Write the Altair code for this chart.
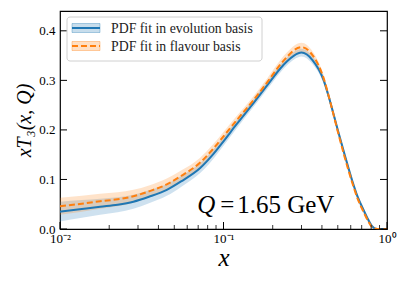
import altair as alt
import pandas as pd

# ---- data ----
X = [0.01, 0.0136, 0.0176, 0.0225, 0.0281, 0.035, 0.045, 0.055, 0.072, 0.085,
     0.1, 0.12, 0.15, 0.185, 0.224, 0.244, 0.27, 0.3, 0.35, 0.409,
     0.45, 0.5, 0.55, 0.611, 0.66, 0.72, 0.77, 0.81, 0.87, 0.93, 1.0]
EVOL = [0.035, 0.0405, 0.045, 0.049, 0.055, 0.065, 0.079, 0.096, 0.123, 0.148,
        0.177, 0.211, 0.251, 0.290, 0.325, 0.338, 0.350, 0.356, 0.341, 0.301,
        0.256, 0.200, 0.151, 0.099, 0.066, 0.038, 0.018, 0.006, 0.0, 0.0, 0.0]
EVOL_ERR = [0.020, 0.018, 0.016, 0.015, 0.014, 0.013, 0.012, 0.011, 0.010, 0.0095,
            0.009, 0.0085, 0.008, 0.008, 0.008, 0.008, 0.008, 0.008, 0.008, 0.007,
            0.007, 0.006, 0.005, 0.005, 0.004, 0.004, 0.003, 0.002, 0.001, 0.0005, 0.0]
FLAV = [0.046, 0.051, 0.056, 0.060, 0.066, 0.076, 0.090, 0.107, 0.134, 0.159,
        0.187, 0.219, 0.257, 0.296, 0.333, 0.347, 0.361, 0.367, 0.351, 0.305,
        0.256, 0.197, 0.146, 0.095, 0.062, 0.034, 0.015, 0.004, 0.0, 0.0, 0.0]
FLAV_ERR = [0.017, 0.016, 0.015, 0.014, 0.013, 0.012, 0.012, 0.011, 0.010, 0.0095,
            0.009, 0.0085, 0.008, 0.008, 0.009, 0.009, 0.009, 0.009, 0.008, 0.007,
            0.007, 0.006, 0.005, 0.005, 0.004, 0.004, 0.003, 0.002, 0.001, 0.0005, 0.0]

Y_TICKS = [0.0, 0.1, 0.2, 0.3, 0.4]
X_MAJOR = [0.01, 0.1, 1.0]
X_MINOR = [0.02, 0.03, 0.04, 0.05, 0.06, 0.07, 0.08, 0.09,
           0.2, 0.3, 0.4, 0.5, 0.6, 0.7, 0.8, 0.9]
LEGEND_LABELS = ["PDF fit in evolution basis", "PDF fit in flavour basis"]
ANNOT_X = [0.069]
ANNOT_Y = [0.032]

# ---- style ----
W, H = 327, 218
BLUE = "#1f77b4"
ORANGE = "#ff7f0e"
SERIF = "Liberation Serif"

def band_df(vals, errs):
    return pd.DataFrame({
        "x": X, "v": vals,
        "lo": [v - e for v, e in zip(vals, errs)],
        "hi": [v + e for v, e in zip(vals, errs)],
    })

d_evol = band_df(EVOL, EVOL_ERR)
d_flav = band_df(FLAV, FLAV_ERR)

xs = alt.Scale(type="log", domain=[0.01, 1.0], nice=False)
ys = alt.Scale(domain=[0.0, 0.44], nice=False, zero=False)

x_axis = alt.Axis(values=X_MAJOR, ticks=False, grid=False, domain=False,
                  labelExpr="datum.value < 0.05 ? '10⁻²' : (datum.value < 0.5 ? '10⁻¹' : '10⁰')",
                  labelFont=SERIF, labelFontSize=13, labelPadding=3, labelFlush=False,
                  labelColor="black", labelOverlap=False,
                  title="x", titleFont=SERIF, titleFontStyle="italic", titleFontWeight="normal",
                  titleFontSize=25, titlePadding=0, titleColor="black")
y_axis = alt.Axis(values=Y_TICKS, format=".1f", ticks=False, grid=False, domain=False,
                  labelFont=SERIF, labelFontSize=13, labelPadding=5, labelColor="black",
                  title="xT₃(x, Q)", titleFont=SERIF, titleFontStyle="italic",
                  titleFontWeight="normal", titleFontSize=20, titlePadding=4, titleColor="black")

def X_(f):
    return alt.X(f, scale=xs, axis=x_axis)

def Y_(f):
    return alt.Y(f, scale=ys, axis=y_axis)

band_e = alt.Chart(d_evol).mark_area(color=BLUE, opacity=0.22, interpolate="monotone").encode(
    x=X_("x:Q"), y=Y_("lo:Q"), y2="hi:Q")
band_f = alt.Chart(d_flav).mark_area(color=ORANGE, opacity=0.22, interpolate="monotone").encode(
    x=X_("x:Q"), y=Y_("lo:Q"), y2="hi:Q")
line_e = alt.Chart(d_evol).mark_line(color=BLUE, strokeWidth=2, interpolate="monotone", clip=True).encode(
    x=X_("x:Q"), y=Y_("v:Q"))
line_f = alt.Chart(d_flav).mark_line(color=ORANGE, strokeWidth=2, strokeDash=[6, 3],
                                     interpolate="monotone", clip=True).encode(
    x=X_("x:Q"), y=Y_("v:Q"))

# inward ticks
yt = pd.DataFrame({"v": Y_TICKS})
xt_major = pd.DataFrame({"v": X_MAJOR})
xt_minor = pd.DataFrame({"v": X_MINOR})
tick_l = alt.Chart(yt).mark_rule(color="black", strokeWidth=1).encode(
    y=Y_("v:Q"), x=alt.value(0), x2=alt.value(7))
tick_r = alt.Chart(yt).mark_rule(color="black", strokeWidth=1).encode(
    y=Y_("v:Q"), x=alt.value(W), x2=alt.value(W - 7))
tick_xM = alt.Chart(xt_major).mark_rule(color="black", strokeWidth=1).encode(
    x=X_("v:Q"), y=alt.value(H), y2=alt.value(H - 7))
tick_xm = alt.Chart(xt_minor).mark_rule(color="black", strokeWidth=0.8).encode(
    x=X_("v:Q"), y=alt.value(H), y2=alt.value(H - 4))

# annotation
ad = pd.DataFrame({"x": ANNOT_X, "y": ANNOT_Y})
ann_q = alt.Chart(ad).mark_text(font=SERIF, fontSize=25, fontStyle="italic", align="left",
                                baseline="alphabetic", color="black").encode(
    x=X_("x:Q"), y=Y_("y:Q"), text=alt.value("Q"))
ann_eq = alt.Chart(ad).mark_text(font=SERIF, fontSize=25, align="left", dx=23,
                                 baseline="alphabetic", color="black").encode(
    x=X_("x:Q"), y=Y_("y:Q"), text=alt.value("="))
ann_val = alt.Chart(ad).mark_text(font=SERIF, fontSize=25, align="left", dx=40,
                                  baseline="alphabetic", color="black").encode(
    x=X_("x:Q"), y=Y_("y:Q"), text=alt.value("1.65 GeV"))

# legend
one = pd.DataFrame({"a": [0]})
leg_box = alt.Chart(one).mark_rect(fill="white", fillOpacity=0.85, stroke="#d0d0d0",
                                   strokeWidth=1, cornerRadius=3).encode(
    x=alt.value(7), x2=alt.value(202), y=alt.value(6), y2=alt.value(50))
leg_layers = [leg_box]
for i, (lab, col) in enumerate(zip(LEGEND_LABELS, [BLUE, ORANGE])):
    cy = 17 + i * 18
    leg_layers.append(alt.Chart(one).mark_rect(fill=col, fillOpacity=0.25, stroke=col,
                                               strokeOpacity=0.35, strokeWidth=1).encode(
        x=alt.value(12), x2=alt.value(40), y=alt.value(cy - 4.5), y2=alt.value(cy + 4.5)))
    leg_layers.append(alt.Chart(one).mark_rule(color=col, strokeWidth=2,
                                               strokeDash=[6, 3] if i == 1 else [1, 0]).encode(
        x=alt.value(12), x2=alt.value(40), y=alt.value(cy)))
    leg_layers.append(alt.Chart(one).mark_text(font=SERIF, fontSize=13.8, align="left",
                                               baseline="middle", color="#222").encode(
        x=alt.value(51), y=alt.value(cy + 1), text=alt.value(lab)))

chart = alt.layer(band_e, band_f, line_e, line_f, tick_l, tick_r, tick_xM, tick_xm,
                  ann_q, ann_eq, ann_val, *leg_layers).properties(
    width=W, height=H,
    padding={"left": 52, "top": 3, "right": 12, "bottom": 48},
    autosize=alt.AutoSizeParams(type="none"),
).configure_view(stroke="black", strokeWidth=1.2)

chart.save("out.html", embed_options={"renderer": "svg", "actions": False})
